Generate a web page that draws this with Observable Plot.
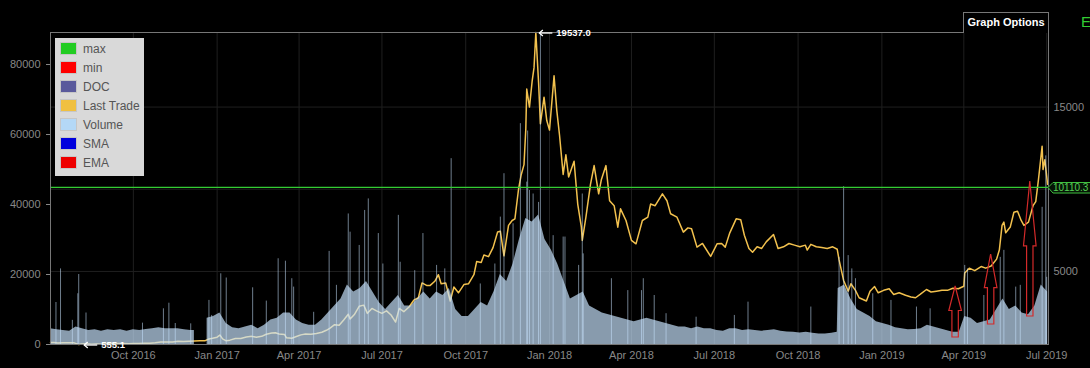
<!DOCTYPE html>
<html><head><meta charset="utf-8">
<script src="https://cdn.jsdelivr.net/npm/d3@7"></script>
<script src="https://cdn.jsdelivr.net/npm/@observablehq/plot@0.6"></script>
<style>
html,body{margin:0;padding:0;background:#000;}
#wrap{position:relative;width:1090px;height:368px;overflow:hidden;background:#000;font-family:"Liberation Sans",Arial,sans-serif;}
#legend{position:absolute;left:55px;top:38px;width:89px;height:138px;background:#d9d9d9;}
.li{position:absolute;left:5px;height:19px;font-size:12px;color:#555;line-height:19px;white-space:nowrap}
.sw{display:inline-block;width:15px;height:11px;border:1px solid #c6c6c6;vertical-align:middle;margin-right:6px;position:relative;top:-1px}
#opts{position:absolute;left:963px;top:12px;width:84px;height:20px;border:1px solid #777;border-bottom:none;color:#fff;font-weight:bold;font-size:11px;text-align:center;line-height:19px;background:#000}
#ex{position:absolute;left:1081px;top:13px;color:#3c3;font-size:15px}
</style></head>
<body>
<div id="wrap"></div>
<script>
// ---------- data ----------
const lastTrade = [
["2016-07-02",680],["2016-07-06",670],["2016-07-10",650],["2016-07-16",665],["2016-07-22",665],["2016-07-28",655],
["2016-08-02",555.1],["2016-08-05",580],["2016-08-10",595],["2016-08-16",575],["2016-08-22",585],["2016-08-28",575],
["2016-09-03",605],["2016-09-08",625],["2016-09-14",610],["2016-09-20",610],["2016-09-26",605],["2016-10-01",615],
["2016-10-07",615],["2016-10-13",635],["2016-10-19",630],["2016-10-25",655],["2016-10-31",700],["2016-11-04",705],
["2016-11-08",710],["2016-11-13",705],["2016-11-19",750],["2016-11-25",735],["2016-12-01",755],["2016-12-07",765],
["2016-12-13",780],["2016-12-19",790],["2016-12-23",890],["2016-12-27",930],["2017-01-01",1000],["2017-01-04",1130],
["2017-01-07",900],["2017-01-11",780],["2017-01-15",820],["2017-01-21",920],["2017-01-27",920],["2017-02-02",1010],
["2017-02-08",1050],["2017-02-13",1000],["2017-02-19",1050],["2017-02-24",1180],["2017-03-02",1250],["2017-03-06",1270],
["2017-03-10",1190],["2017-03-16",1170],["2017-03-18",970],["2017-03-24",940],["2017-03-29",1040],["2017-04-03",1140],
["2017-04-08",1190],["2017-04-14",1180],["2017-04-20",1230],["2017-04-26",1300],["2017-05-01",1420],["2017-05-05",1550],
["2017-05-10",1760],["2017-05-15",1720],["2017-05-20",2050],["2017-05-25",2400],["2017-05-27",2100],["2017-06-01",2400],
["2017-06-06",2880],["2017-06-11",2950],["2017-06-15",2450],["2017-06-20",2750],["2017-06-25",2600],["2017-07-01",2450],
["2017-07-06",2600],["2017-07-11",2350],["2017-07-16",1920],["2017-07-20",2750],["2017-07-25",2550],["2017-07-31",2850],
["2017-08-05",3250],["2017-08-10",3400],["2017-08-14",4300],["2017-08-19",4150],["2017-08-23",4150],["2017-08-28",4400],
["2017-09-01",4800],["2017-09-04",4250],["2017-09-09",4300],["2017-09-14",3200],["2017-09-18",4050],["2017-09-23",3700],
["2017-09-29",4200],["2017-10-04",4250],["2017-10-10",4800],["2017-10-13",5600],["2017-10-18",5550],["2017-10-21",6000],
["2017-10-26",5900],["2017-10-31",6450],["2017-11-05",7400],["2017-11-08",7450],["2017-11-12",5950],["2017-11-17",7800],
["2017-11-21",8100],["2017-11-24",8200],["2017-11-28",10000],["2017-12-01",10900],["2017-12-04",11500],["2017-12-06",13700],
["2017-12-07",16100],["2017-12-10",15000],["2017-12-13",16600],["2017-12-15",17400],["2017-12-17",19537],["2017-12-20",16500],
["2017-12-22",13980],["2017-12-26",15600],["2017-12-29",14180],["2018-01-01",13600],["2018-01-06",16900],["2018-01-09",14800],
["2018-01-12",13300],["2018-01-16",10900],["2018-01-19",12100],["2018-01-22",10750],["2018-01-28",11700],["2018-02-01",9100],
["2018-02-05",7690],["2018-02-06",6890],["2018-02-10",8300],["2018-02-15",10300],["2018-02-19",11440],["2018-02-24",9720],
["2018-02-27",10600],["2018-03-04",11440],["2018-03-08",9300],["2018-03-13",9000],["2018-03-17",7690],["2018-03-20",8810],
["2018-03-26",8100],["2018-04-01",6890],["2018-04-06",6680],["2018-04-13",8100],["2018-04-19",8300],["2018-04-22",9100],
["2018-04-27",9000],["2018-05-05",9720],["2018-05-10",9300],["2018-05-14",8510],["2018-05-21",8300],["2018-05-28",7390],
["2018-06-02",7650],["2018-06-06",7600],["2018-06-12",6480],["2018-06-18",6700],["2018-06-27",5913],["2018-07-04",6680],
["2018-07-09",6700],["2018-07-13",6480],["2018-07-18",7350],["2018-07-25",8200],["2018-07-30",8150],["2018-08-03",7200],
["2018-08-08",6400],["2018-08-12",6170],["2018-08-17",6500],["2018-08-22",6400],["2018-08-27",6800],["2018-09-04",7250],
["2018-09-09",6400],["2018-09-15",6500],["2018-09-21",6700],["2018-09-27",6600],["2018-10-03",6500],["2018-10-09",6600],
["2018-10-11",6300],["2018-10-15",6650],["2018-10-21",6500],["2018-10-27",6450],["2018-11-02",6400],["2018-11-08",6500],
["2018-11-13",6350],["2018-11-15",5700],["2018-11-19",4700],["2018-11-20",4450],["2018-11-25",3800],["2018-11-28",4250],
["2018-12-03",3850],["2018-12-07",3400],["2018-12-15",3200],["2018-12-19",3800],["2018-12-24",4080],["2018-12-28",3700],
["2019-01-03",3850],["2019-01-09",3950],["2019-01-14",3600],["2019-01-20",3700],["2019-01-27",3550],["2019-02-02",3450],
["2019-02-07",3400],["2019-02-12",3600],["2019-02-19",3900],["2019-02-24",3750],["2019-03-02",3800],["2019-03-08",3850],
["2019-03-14",3850],["2019-03-20",3980],["2019-03-26",3950],["2019-04-01",4100],["2019-04-02",4900],["2019-04-07",5200],
["2019-04-13",5050],["2019-04-20",5300],["2019-04-25",5200],["2019-05-01",5330],["2019-05-07",5750],["2019-05-10",6300],
["2019-05-13",7800],["2019-05-15",8000],["2019-05-17",7350],["2019-05-22",7700],["2019-05-26",8600],["2019-05-30",8660],
["2019-06-03",8100],["2019-06-06",7800],["2019-06-11",8000],["2019-06-16",9000],["2019-06-19",9250],["2019-06-22",10600],
["2019-06-26",12620],["2019-06-27",11200],["2019-06-29",11800],["2019-07-02",10300]
];

// weekly typical volume level (null = no data)
const volumeBase = [
["2016-07-02",4500],["2016-07-09",4200],["2016-07-16",4000],["2016-07-23",3800],["2016-07-30",5000],["2016-08-06",4500],
["2016-08-13",4000],["2016-08-20",4200],["2016-08-27",3800],["2016-09-03",4200],["2016-09-10",4000],["2016-09-17",4200],
["2016-09-24",3800],["2016-10-01",4200],["2016-10-08",4000],["2016-10-15",4300],["2016-10-22",4500],["2016-10-29",4800],
["2016-11-05",4500],["2016-11-12",4500],["2016-11-19",4500],["2016-11-26",4200],["2016-12-03",4000],["2016-12-07",4000],
["2016-12-14",null],["2016-12-21",7500],["2016-12-28",8000],["2017-01-04",9000],["2017-01-11",6000],["2017-01-18",4800],
["2017-01-25",4500],["2017-02-01",5000],["2017-02-08",5500],["2017-02-15",4500],["2017-02-22",5500],["2017-03-01",7000],
["2017-03-08",7500],["2017-03-15",9000],["2017-03-22",9000],["2017-03-29",7000],["2017-04-05",6000],["2017-04-12",5500],
["2017-04-19",5500],["2017-04-26",7000],["2017-05-03",9000],["2017-05-10",11000],["2017-05-17",13000],["2017-05-24",17000],
["2017-05-31",15000],["2017-06-07",16000],["2017-06-14",18000],["2017-06-21",15000],["2017-06-28",12000],["2017-07-05",10000],
["2017-07-12",12000],["2017-07-19",14000],["2017-07-26",11000],["2017-08-02",11000],["2017-08-09",13000],["2017-08-16",15000],
["2017-08-23",13000],["2017-08-30",15000],["2017-09-06",14000],["2017-09-13",16000],["2017-09-20",10000],["2017-09-27",8000],
["2017-10-04",8000],["2017-10-11",10000],["2017-10-18",12000],["2017-10-25",11000],["2017-11-01",15000],["2017-11-08",20000],
["2017-11-15",18000],["2017-11-22",23000],["2017-11-29",30000],["2017-12-06",36000],["2017-12-13",35000],["2017-12-20",37000],
["2017-12-27",30000],["2018-01-03",27000],["2018-01-10",23000],["2018-01-17",18000],["2018-01-24",13000],["2018-01-31",14000],
["2018-02-07",15000],["2018-02-14",11000],["2018-02-21",10000],["2018-02-28",9000],["2018-03-07",8500],["2018-03-14",8000],
["2018-03-21",7500],["2018-03-28",7000],["2018-04-04",6500],["2018-04-11",7000],["2018-04-18",7500],["2018-04-25",7000],
["2018-05-02",6500],["2018-05-09",6000],["2018-05-16",5500],["2018-05-23",5000],["2018-05-30",5000],["2018-06-06",4500],
["2018-06-13",5000],["2018-06-20",4500],["2018-06-27",4500],["2018-07-04",4000],["2018-07-11",3800],["2018-07-18",4500],
["2018-07-25",4500],["2018-08-01",4000],["2018-08-08",4200],["2018-08-15",4000],["2018-08-22",3800],["2018-08-29",4000],
["2018-09-05",4200],["2018-09-12",3800],["2018-09-19",3600],["2018-09-26",3500],["2018-10-03",3300],["2018-10-10",3500],
["2018-10-17",3200],["2018-10-24",3000],["2018-10-31",3000],["2018-11-07",3200],["2018-11-13",3500],["2018-11-14",16000],
["2018-11-21",17000],["2018-11-28",13000],["2018-12-05",10000],["2018-12-12",9000],["2018-12-19",8000],["2018-12-26",6500],
["2019-01-02",6000],["2019-01-09",5500],["2019-01-16",4800],["2019-01-23",4500],["2019-01-30",4200],["2019-02-06",4300],
["2019-02-13",4500],["2019-02-20",5500],["2019-02-27",5000],["2019-03-06",4500],["2019-03-13",4000],["2019-03-20",3500],
["2019-03-27",3500],["2019-04-02",8000],["2019-04-09",7500],["2019-04-16",6000],["2019-04-23",6500],["2019-04-30",7000],
["2019-05-07",10000],["2019-05-14",13000],["2019-05-21",10000],["2019-05-28",11000],["2019-06-04",9000],["2019-06-11",8500],
["2019-06-18",11000],["2019-06-25",17000],["2019-07-02",15000]
];

// individual high-volume days
const volumeSpikes = [
["2016-07-08",12000],["2016-07-13",21600],["2016-07-26",6900],["2016-08-01",14500],["2016-08-02",20000],["2016-08-10",9000],
["2016-10-11",6100],["2016-11-03",10200],["2016-11-09",11800],["2016-11-16",6000],["2016-12-03",5900],["2016-12-23",12600],
["2016-12-26",8300],["2017-01-05",20200],["2017-01-11",19000],["2017-02-09",16200],["2017-02-24",12400],["2017-03-09",24500],
["2017-03-17",23800],["2017-03-24",18800],["2017-03-26",16400],["2017-04-17",9200],["2017-05-04",26600],["2017-05-12",16900],
["2017-05-25",37300],["2017-05-27",32100],["2017-06-06",28300],["2017-06-12",38300],["2017-06-16",41600],["2017-06-27",31700],
["2017-07-02",23000],["2017-07-19",36900],["2017-07-21",23500],["2017-08-06",21100],["2017-08-15",31700],["2017-08-30",22600],
["2017-09-08",21600],["2017-09-15",53100],["2017-10-17",17300],["2017-11-02",23000],["2017-11-08",36400],["2017-11-12",48800],
["2017-11-22",34500],["2017-11-30",63100],["2017-12-07",46400],["2017-12-08",61000],["2017-12-10",44000],["2017-12-14",43000],
["2017-12-20",40600],["2017-12-22",89150],["2018-01-05",31100],["2018-01-16",30700],["2018-01-18",30700],["2018-02-02",22600],
["2018-02-06",43000],["2018-02-07",25900],["2018-03-10",18800],["2018-03-28",15400],["2018-04-12",15400],["2018-04-14",18800],
["2018-04-26",14000],["2018-05-09",8800],["2018-06-11",7800],["2018-07-23",8300],["2018-08-07",12100],["2018-10-15",10700],
["2018-11-15",24900],["2018-11-20",45100],["2018-11-25",25400],["2018-11-29",21600],["2018-12-03",18800],["2018-12-22",14500],
["2019-01-11",12600],["2019-02-08",10700],["2019-02-23",10200],["2019-04-02",22600],["2019-04-05",21600],["2019-04-23",14000],
["2019-05-11",24900],["2019-05-15",26900],["2019-05-28",16400],["2019-06-02",16900],["2019-06-26",39200],["2019-06-30",53900],
["2019-07-01",19200]
];

// signal arrows: date, tip price, tail price
const signalDates = ["2019-03-23","2019-05-01","2019-06-13"];
const signalTop = [4083, 6031, 10472];
const signalBottom = [981, 1772, 2259];

const legendNames = ["max","min","DOC","Last Trade","Volume","SMA","EMA"];
const legendColors = ["#22cc22","#ff0000","#5a5a9c","#f0c040","#b4d8f6","#0000dd","#ee0000"];

const priceMin = 555.1, priceMax = 19537.0, minDate = "2016-08-02", maxDate = "2017-12-17";
const lastValue = 10110.3;
const volumeTop = 89150;
const volumeTicks = [0, 20000, 40000, 60000, 80000];
const priceTicks = [5000, 15000];
const priceGrid = [5000, 10000, 15000];

// ---------- build ----------
const parse = d3.utcParse("%Y-%m-%d");
const vol2price = v => priceMin + v / volumeTop * (priceMax - priceMin);
const price2vol = p => (p - priceMin) / (priceMax - priceMin) * volumeTop;

const priceData = lastTrade.map(([d, p]) => ({date: parse(d), price: p}));
const volData = volumeBase.map(([d, v]) => ({date: parse(d), vol: v}));
const spikeData = volumeSpikes.map(([d, v]) => ({date: parse(d), vol: v}));
const signals = signalDates.map((d, i) => ({date: parse(d), top: signalTop[i], bottom: signalBottom[i]}));

const x0 = parse("2016-07-02"), x1 = parse("2019-07-03");
const quarterTicks = d3.utcMonth.every(3).range(x0, x1);

function annotations(index, scales) {
  const X = scales.x, Y = scales.y;
  const g = d3.create("svg:g");
  const marks = [
    {date: parse(maxDate), v: priceMax, label: priceMax.toFixed(1), dx: 4},
    {date: parse(minDate), v: priceMin, label: priceMin.toFixed(1), dx: 6}
  ];
  for (const m of marks) {
    const px = X(m.date) + m.dx, py = Y(m.v) + 1;
    g.append("path").attr("d", `M${px},${py}L${px + 13},${py}`).attr("stroke", "#fff").attr("stroke-width", 1.3);
    g.append("path").attr("d", `M${px + 3.5},${py - 3}L${px},${py}L${px + 3.5},${py + 3}`).attr("stroke", "#fff").attr("fill", "none").attr("stroke-width", 1.3);
    g.append("text").attr("x", px + 17).attr("y", py).attr("dy", "0.35em").attr("text-anchor", "start")
      .attr("fill", "#fff").attr("font-size", 9.5).attr("font-weight", "bold").text(m.label);
  }
  return g.node();
}

function signalArrows(index, scales) {
  const X = scales.x, Y = scales.y;
  const g = d3.create("svg:g");
  for (const s of signals) {
    const cx = X(s.date), yt = Y(s.top), yb = Y(s.bottom);
    const L = yb - yt, hl = 0.48 * L, hw = 6.3, sw = 3.2;
    g.append("path")
      .attr("d", `M${cx},${yt}L${cx + hw},${yt + hl}L${cx + sw},${yt + hl}L${cx + sw},${yb}L${cx - sw},${yb}L${cx - sw},${yt + hl}L${cx - hw},${yt + hl}Z`)
      .attr("fill", "none").attr("stroke", "#d42a2a").attr("stroke-width", 1.2);
  }
  return g.node();
}

function lastTag(index, scales, values, dims) {
  const Y = scales.y;
  const g = d3.create("svg:g");
  const xr = dims.width - dims.marginRight, y = Math.round(Y(lastValue)) + 0.5;
  g.append("path").attr("d", `M${xr},${y}L${xr + 5},${y - 5}H${xr + 60}V${y + 5.5}H${xr + 5}Z`)
    .attr("fill", "#061406").attr("stroke", "#3fbf3f").attr("stroke-width", 1);
  g.append("text").attr("x", xr + 5).attr("y", y).attr("dy", "0.36em").attr("text-anchor", "start")
    .attr("fill", "#55d055").attr("font-size", 10).text(String(lastValue));
  return g.node();
}

const plot = Plot.plot({
  width: 1090, height: 368,
  marginLeft: 50, marginRight: 42, marginTop: 32, marginBottom: 24,
  style: {background: "#000", color: "#888", fontFamily: "Liberation Sans, Arial, sans-serif", fontSize: "11px", overflow: "visible"},
  x: {type: "utc", domain: [x0, x1], axis: null, label: null},
  y: {domain: [priceMin, priceMax], axis: null, label: null},
  marks: [
    Plot.ruleX(quarterTicks, {stroke: "#1f1f1f"}),
    Plot.ruleY(priceGrid, {stroke: "#1f1f1f"}),
    Plot.line(priceData, {x: "date", y: "price", stroke: "#f2c14e", strokeWidth: 1.5}),
    Plot.areaY(volData, {x: "date", y1: priceMin, y2: d => d.vol == null ? NaN : vol2price(d.vol), fill: "#c8e4ff", fillOpacity: 0.68}),
    Plot.ruleX(spikeData, {x: "date", y1: priceMin, y2: d => vol2price(d.vol), stroke: "#c8e4ff", strokeOpacity: 0.55, strokeWidth: 1}),
    Plot.ruleY([lastValue], {stroke: "#33cc33", strokeWidth: 1.2}),
    Plot.frame({stroke: "#777"}),
    Plot.axisY({anchor: "left", label: null, ticks: volumeTicks.map(vol2price), tickFormat: d => String(Math.round(price2vol(d))), tickSize: 4, tickPadding: 6}),
    Plot.axisY({anchor: "right", label: null, ticks: priceTicks, tickFormat: d => String(d), tickSize: 0, tickPadding: 5}),
    Plot.axisX({anchor: "bottom", label: null, ticks: quarterTicks, tickFormat: d3.utcFormat("%b %Y"), tickSize: 0, tickPadding: 7}),
    annotations,
    signalArrows,
    lastTag
  ]
});

const wrap = document.getElementById("wrap");
wrap.appendChild(plot);

const legend = document.createElement("div");
legend.id = "legend";
legendNames.forEach((n, i) => {
  const row = document.createElement("div");
  row.className = "li";
  row.style.top = (2 + 19 * i) + "px";
  const sw = document.createElement("span");
  sw.className = "sw";
  sw.style.background = legendColors[i];
  row.appendChild(sw);
  row.appendChild(document.createTextNode(n));
  legend.appendChild(row);
});
wrap.appendChild(legend);

const opts = document.createElement("div");
opts.id = "opts"; opts.textContent = "Graph Options";
wrap.appendChild(opts);
const ex = document.createElement("div");
ex.id = "ex"; ex.textContent = "E";
wrap.appendChild(ex);
</script>
</body></html>
